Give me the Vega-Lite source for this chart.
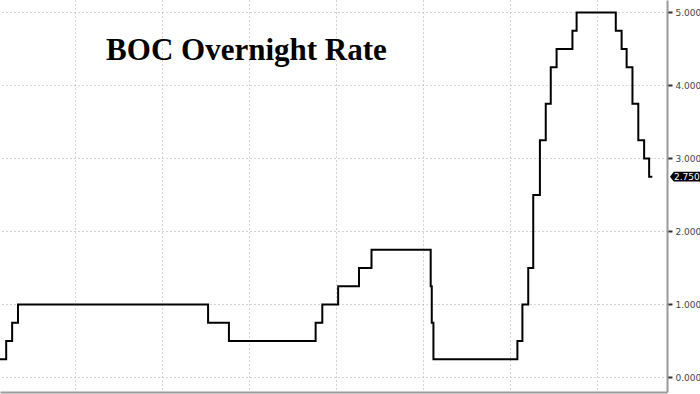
{
  "$schema": "https://vega.github.io/schema/vega-lite/v6.json",
  "width": 667,
  "height": 392,
  "autosize": {"type": "none"},
  "padding": {"left": 0, "top": 0, "right": 33, "bottom": 2},
  "background": "white",
  "config": {"view": {"stroke": null}},
  "datasets": {
    "rate": [
      {"date": "2010-04-10", "rate": 0.25},
      {"date": "2010-06-01", "rate": 0.5},
      {"date": "2010-07-21", "rate": 0.75},
      {"date": "2010-09-08", "rate": 1.0},
      {"date": "2015-01-21", "rate": 0.75},
      {"date": "2015-07-15", "rate": 0.5},
      {"date": "2017-07-12", "rate": 0.75},
      {"date": "2017-09-06", "rate": 1.0},
      {"date": "2018-01-17", "rate": 1.25},
      {"date": "2018-07-11", "rate": 1.5},
      {"date": "2018-10-24", "rate": 1.75},
      {"date": "2020-03-04", "rate": 1.25},
      {"date": "2020-03-13", "rate": 0.75},
      {"date": "2020-03-27", "rate": 0.25},
      {"date": "2022-03-02", "rate": 0.5},
      {"date": "2022-04-13", "rate": 1.0},
      {"date": "2022-06-01", "rate": 1.5},
      {"date": "2022-07-13", "rate": 2.5},
      {"date": "2022-09-07", "rate": 3.25},
      {"date": "2022-10-26", "rate": 3.75},
      {"date": "2022-12-07", "rate": 4.25},
      {"date": "2023-01-25", "rate": 4.5},
      {"date": "2023-06-07", "rate": 4.75},
      {"date": "2023-07-12", "rate": 5.0},
      {"date": "2024-06-05", "rate": 4.75},
      {"date": "2024-07-24", "rate": 4.5},
      {"date": "2024-09-04", "rate": 4.25},
      {"date": "2024-10-23", "rate": 3.75},
      {"date": "2024-12-11", "rate": 3.25},
      {"date": "2025-01-29", "rate": 3.0},
      {"date": "2025-03-12", "rate": 2.75},
      {"date": "2025-04-08", "rate": 2.75}
    ],
    "one": [{"label": "BOC Overnight Rate", "last": "2.750"}]
  },
  "layer": [
    {
      "data": {"name": "rate"},
      "mark": {"type": "line", "interpolate": "step-after", "color": "#000000", "strokeWidth": 2, "clip": true},
      "encoding": {
        "x": {
          "field": "date",
          "type": "temporal",
          "scale": {"domain": [{"year": 2010, "month": 4, "date": 10}, {"year": 2025, "month": 8, "date": 9}], "nice": false},
          "axis": {
            "title": null,
            "orient": "bottom",
            "labels": false,
            "ticks": false,
            "domain": true,
            "domainColor": "#9a9a9a",
            "domainWidth": 2,
            "grid": true,
            "gridColor": "#a8a8a8",
            "gridDash": [1, 3],
            "gridWidth": 1,
            "values": [
              {"year": 2012, "month": 1, "date": 1},
              {"year": 2014, "month": 1, "date": 1},
              {"year": 2016, "month": 1, "date": 1},
              {"year": 2018, "month": 1, "date": 1},
              {"year": 2020, "month": 1, "date": 1},
              {"year": 2022, "month": 1, "date": 1},
              {"year": 2024, "month": 1, "date": 1}
            ]
          }
        },
        "y": {
          "field": "rate",
          "type": "quantitative",
          "scale": {"domain": [-0.2, 5.17], "nice": false, "zero": false},
          "axis": {
            "title": null,
            "orient": "right",
            "values": [0, 0.5, 1, 1.5, 2, 2.5, 3, 3.5, 4, 4.5, 5],
            "format": ".3f",
            "labelExpr": "datum.value % 1 === 0 ? datum.label : ''",
            "labelFont": "DejaVu Sans",
            "labelFontSize": 9,
            "labelColor": "#444444",
            "labelPadding": 3,
            "domainColor": "#9a9a9a",
            "domainWidth": 2,
            "tickColor": "#333333",
            "tickSize": {"condition": {"test": "datum.value % 1 === 0", "value": 5}, "value": 3},
            "tickWidth": {"condition": {"test": "datum.value % 1 === 0", "value": 2}, "value": 1},
            "grid": true,
            "gridColor": "#a8a8a8",
            "gridDash": [1, 3],
            "gridWidth": 1,
            "gridOpacity": {"condition": {"test": "datum.value % 1 === 0", "value": 1}, "value": 0}
          }
        }
      }
    },
    {
      "data": {"name": "one"},
      "mark": {"type": "text", "font": "Liberation Serif", "fontWeight": "bold", "fontSize": 31, "align": "left", "baseline": "alphabetic", "color": "#000000"},
      "encoding": {
        "x": {"datum": {"year": 2012, "month": 9, "date": 17}, "type": "temporal"},
        "y": {"datum": 4.35, "type": "quantitative"},
        "text": {"field": "label"}
      }
    },
    {
      "data": {"name": "one"},
      "mark": {"type": "point", "filled": true, "color": "#000000", "opacity": 1, "size": 900, "shape": "M0.2,0 L0.45,-0.33 L2.2,-0.33 L2.2,0.33 L0.45,0.33 Z"},
      "encoding": {
        "x": {"datum": {"year": 2025, "month": 8, "date": 9}, "type": "temporal"},
        "y": {"datum": 2.75, "type": "quantitative"}
      }
    },
    {
      "data": {"name": "one"},
      "mark": {"type": "text", "font": "DejaVu Sans", "fontSize": 9, "color": "#ffffff", "align": "left", "baseline": "middle", "dx": 7},
      "encoding": {
        "x": {"datum": {"year": 2025, "month": 8, "date": 9}, "type": "temporal"},
        "y": {"datum": 2.75, "type": "quantitative"},
        "text": {"field": "last"}
      }
    }
  ]
}
